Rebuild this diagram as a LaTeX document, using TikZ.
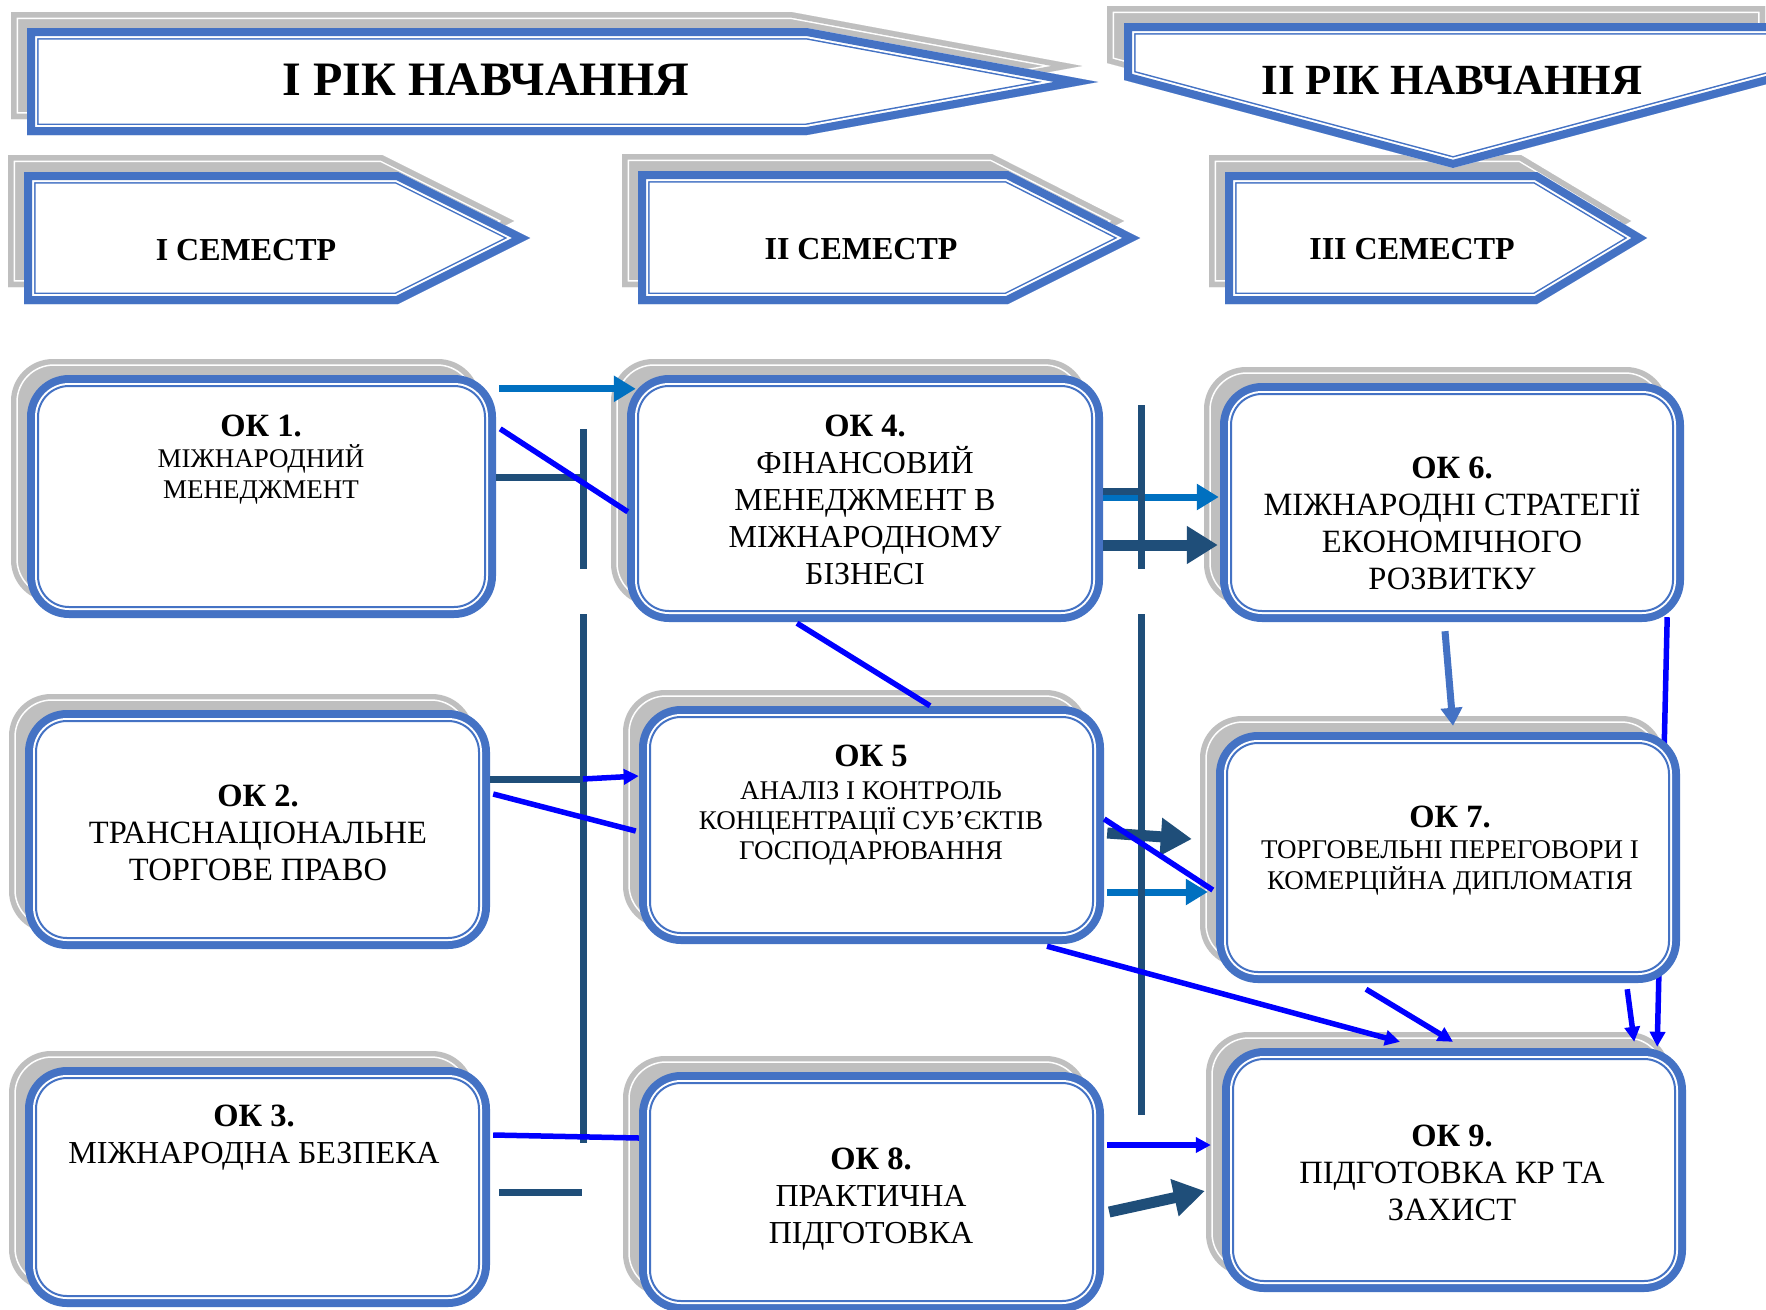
\documentclass[tikz,border=0pt]{standalone}
\usepackage{fontspec}
\setmainfont{Liberation Serif}
\usetikzlibrary{arrows.meta,calc}
\definecolor{boxblue}{HTML}{4472C4}
\definecolor{darkblue}{HTML}{1F4E79}
\definecolor{lightblue}{HTML}{0070C0}
\definecolor{pureblue}{HTML}{0000FF}
\definecolor{shadowgray}{HTML}{BFBFBF}
\pgfdeclarelayer{shadowlayer}
\pgfdeclarelayer{behind}
\pgfsetlayers{shadowlayer,behind,main}
\tikzset{
  oktext/.style={align=center, inner sep=0pt, anchor=north, text=black},
  bannertext/.style={inner sep=0pt, anchor=base, text=black},
  darkline/.style={darkblue, line width=7pt},
  darkarrow/.style={darkblue, line width=11pt, -{Triangle[length=31pt,width=36pt]}},
  lbarrow/.style={lightblue, line width=7pt, -{Triangle[length=22pt,width=25pt]}},
  blueline/.style={pureblue, line width=5.5pt},
  bluearrow/.style={pureblue, line width=5.5pt, -{Triangle[length=15pt,width=15pt]}},
  midarrow/.style={boxblue, line width=7pt, -{Triangle[length=18pt,width=21pt]}},
}
\newcommand\okbox[5]{%
  \begin{pgfonlayer}{shadowlayer}
    \fill[shadowgray, rounded corners=42pt] (#2-16,#3-16) rectangle (#4-16,#5-16);
    \draw[white, line width=1.5pt, rounded corners=37pt] (#2-10,#3-10) rectangle (#4-22,#5-22);
  \end{pgfonlayer}
  \fill[boxblue, rounded corners=42pt] (#2,#3) rectangle (#4,#5);
  \fill[white, rounded corners=34pt] (#2+8,#3+8) rectangle (#4-8,#5-8);
  \draw[boxblue, line width=2pt, rounded corners=31pt] (#2+11,#3+11) rectangle (#4-11,#5-11);
  \node[inner sep=0pt, minimum width={#4-#2}, minimum height={#5-#3}] (#1) at ({(#2+#4)/2},{(#3+#5)/2}) {};
}
\newcommand\bannerbox[2]{%
  \begin{scope}[shift={#2}]
    \begin{scope}
      \clip #1;
      \fill[shadowgray] #1;
      \draw[white, line width=14pt] #1;
      \draw[shadowgray, line width=11pt] #1;
    \end{scope}
  \end{scope}
  \begin{scope}
    \clip #1;
    \fill[white] #1;
    \draw[boxblue, line width=23pt] #1;
    \draw[white, line width=20pt] #1;
    \draw[boxblue, line width=16pt] #1;
  \end{scope}
}
\newcommand\okno[1]{{\fontsize{32.5}{37}\selectfont\bfseries #1}}
\begin{document}
\begin{tikzpicture}[x=1pt,y=-1pt]
\useasboundingbox (0,0) rectangle (1766,1309);
\begin{pgfonlayer}{shadowlayer}
  \fill[white] (0,0) rectangle (1766,1309);
\end{pgfonlayer}

% banners
\bannerbox{(27,28) -- (807,28) -- (1098,82) -- (807,135) -- (27,135) -- cycle}{(-16,-16)}
\node[bannertext, font=\fontsize{48}{48}\selectfont\bfseries] (b1) at (486,95.7) {І РІК НАВЧАННЯ};

\bannerbox{(24,172) -- (398,172) -- (530,238) -- (398,304) -- (24,304) -- cycle}{(-16,-17)}
\node[bannertext, font=\fontsize{32}{32}\selectfont\bfseries] (s1) at (246,260.5) {І СЕМЕСТР};

\bannerbox{(638,171) -- (1008,171) -- (1140,238) -- (1008,304) -- (638,304) -- cycle}{(-16,-17)}
\node[bannertext, font=\fontsize{32}{32}\selectfont\bfseries] (s2) at (861,259.5) {ІІ СЕМЕСТР};

\bannerbox{(1225,172) -- (1537,172) -- (1647,238) -- (1537,304) -- (1225,304) -- cycle}{(-16,-17)}
\node[bannertext, font=\fontsize{32}{32}\selectfont\bfseries] (s3) at (1412,259.5) {ІІІ СЕМЕСТР};

\bannerbox{(1124,23) -- (1782,23) -- (1782,80) -- (1453,168) -- (1124,80) -- cycle}{(-17,-17)}
\node[bannertext, font=\fontsize{43}{43}\selectfont\bfseries] (b2) at (1452,94) {ІІ РІК НАВЧАННЯ};

% boxes
\okbox{ok1}{27}{375}{496}{618}
\okbox{ok4}{627}{375}{1103}{622}
\okbox{ok6}{1220}{383}{1684}{622}
\okbox{ok2}{25}{710}{490}{949}
\okbox{ok5}{639}{706}{1104}{944}
\okbox{ok7}{1216}{732}{1680}{983}
\okbox{ok3}{25}{1067}{490}{1307}
\okbox{ok8}{639}{1072}{1104}{1312}
\okbox{ok9}{1222}{1048}{1686}{1292}

\node[oktext, font=\fontsize{27}{31}\selectfont] (ok1t) at (261,415) {\okno{ОК 1.}\\МІЖНАРОДНИЙ\\МЕНЕДЖМЕНТ};
\node[oktext, font=\fontsize{32}{37}\selectfont] (ok4t) at (865,415) {\okno{ОК 4.}\\ФІНАНСОВИЙ\\МЕНЕДЖМЕНТ В\\МІЖНАРОДНОМУ\\БІЗНЕСІ};
\node[oktext, font=\fontsize{32.5}{37}\selectfont] (ok6t) at (1452,457) {\okno{ОК 6.}\\МІЖНАРОДНІ СТРАТЕГІЇ\\ЕКОНОМІЧНОГО\\РОЗВИТКУ};
\node[oktext, font=\fontsize{32.5}{37}\selectfont] (ok2t) at (258,785) {\okno{ОК 2.}\\ТРАНСНАЦІОНАЛЬНЕ\\ТОРГОВЕ ПРАВО};
\node[oktext, font=\fontsize{27}{30}\selectfont] (ok5t) at (871,745) {\okno{ОК 5}\\[3pt]АНАЛІЗ І КОНТРОЛЬ\\КОНЦЕНТРАЦІЇ СУБ’ЄКТІВ\\ГОСПОДАРЮВАННЯ};
\node[oktext, font=\fontsize{27}{31}\selectfont] (ok7t) at (1450,806) {\okno{ОК 7.}\\ТОРГОВЕЛЬНІ ПЕРЕГОВОРИ І\\КОМЕРЦІЙНА ДИПЛОМАТІЯ};
\node[oktext, font=\fontsize{32}{37}\selectfont] (ok3t) at (254,1105) {\okno{ОК 3.}\\МІЖНАРОДНА БЕЗПЕКА};
\node[oktext, font=\fontsize{32}{37}\selectfont] (ok8t) at (871,1148) {\okno{ОК 8.}\\ПРАКТИЧНА\\ПІДГОТОВКА};
\node[oktext, font=\fontsize{32.5}{37}\selectfont] (ok9t) at (1452,1125) {\okno{ОК 9.}\\ПІДГОТОВКА КР ТА\\ЗАХИСТ};

% bus lines
\coordinate (v1t) at (583,429);
\coordinate (v1m) at (583,569);
\coordinate (v1n) at (583,614);
\coordinate (v1b) at (583,1143);
\coordinate (v2t) at (1141,405);
\coordinate (v2m) at (1141,569);
\coordinate (v2n) at (1141,614);
\coordinate (v2b) at (1141,1115);

% long connector behind OK7
\begin{pgfonlayer}{behind}
  \draw[bluearrow] ([xshift=-17pt,yshift=5pt]ok6.south east) -- ([xshift=-29pt,yshift=1pt]ok9.north east);
\end{pgfonlayer}

% light blue arrows
\draw[lbarrow] ([xshift=3pt,yshift=-14pt]ok1.north east) -- ([xshift=9pt,yshift=-14pt]ok4.north west);
\draw[lbarrow] ([yshift=1.5pt]ok4.east) -- ([xshift=-1pt,yshift=5.5pt]ok6.west);
\draw[lbarrow] ([xshift=3pt,yshift=-67pt]ok5.east) -- ([xshift=-8pt,yshift=-34.5pt]ok7.west);

% dark lines and arrows
\coordinate (a1) at ([yshift=19.5pt]ok1.east);
\draw[darkline] (a1) -- (a1 -| v1t);
\coordinate (a4) at ([yshift=7.5pt]ok4.east);
\draw[darkline] (a4) -- (a4 -| v2t);
\draw[darkarrow] ([yshift=-46.5pt]ok4.east) -- ([xshift=-2pt,yshift=-42.5pt]ok6.west);
\coordinate (a2) at ([yshift=50.5pt]ok2.east);
\draw[darkline] (a2) -- (a2 -| v1n);
\draw[darkarrow] ([xshift=3pt,yshift=-8pt]ok5.east) -- ([xshift=-24pt,yshift=18.5pt]ok7.west);
\draw[darkline] ([xshift=9pt,yshift=-5pt]ok3.east) -- ++(83,0);
\draw[darkarrow] ([xshift=5pt,yshift=-20pt]ok8.east) -- ([xshift=-17pt,yshift=-21pt]ok9.west);

\draw[darkline] (v1t) -- (v1m);
\draw[darkline] (v1n) -- (v1b);
\draw[darkline] (v2t) -- (v2m);
\draw[darkline] (v2n) -- (v2b);

% blue lines and arrows
\draw[blueline] ([xshift=4pt,yshift=-54pt]ok1.north east) -- ([xshift=1pt,yshift=-137pt]ok4.north west);
\draw[blueline] ([xshift=-68pt,yshift=-1pt]ok4.south) -- ([xshift=58.5pt]ok5.north);
\draw[bluearrow] (a2 -| v1n) -- ([yshift=49pt]ok5.west);
\draw[blueline] ([xshift=3pt,yshift=35.5pt]ok2.east) -- ([xshift=-3pt,yshift=-6pt]ok5.west);
\draw[blueline] ([yshift=6pt]ok5.east) -- ([xshift=-3pt,yshift=-32.5pt]ok7.west);
\draw[bluearrow] ([xshift=175.5pt,yshift=-2pt]ok5.south) -- ([xshift=-54pt,yshift=6pt]ok9.north);
\draw[bluearrow] ([xshift=-82pt,yshift=-6pt]ok7.south) -- ([xshift=-1pt,yshift=6pt]ok9.north);
\draw[midarrow] ([xshift=-7pt,yshift=-9pt]ok6.south) -- ([xshift=5pt,yshift=6pt]ok7.north);
\draw[bluearrow] ([xshift=-53pt,yshift=-6pt]ok7.south east) -- ([xshift=-52pt,yshift=6pt]ok9.north east);
\draw[blueline] ([xshift=3pt,yshift=52pt]ok3.east) -- ([yshift=54pt]ok8.west);
\draw[bluearrow, line width=6.5pt] ([xshift=3pt,yshift=47pt]ok8.east) -- ([xshift=-11pt,yshift=25pt]ok9.west);
\end{tikzpicture}
\end{document}
